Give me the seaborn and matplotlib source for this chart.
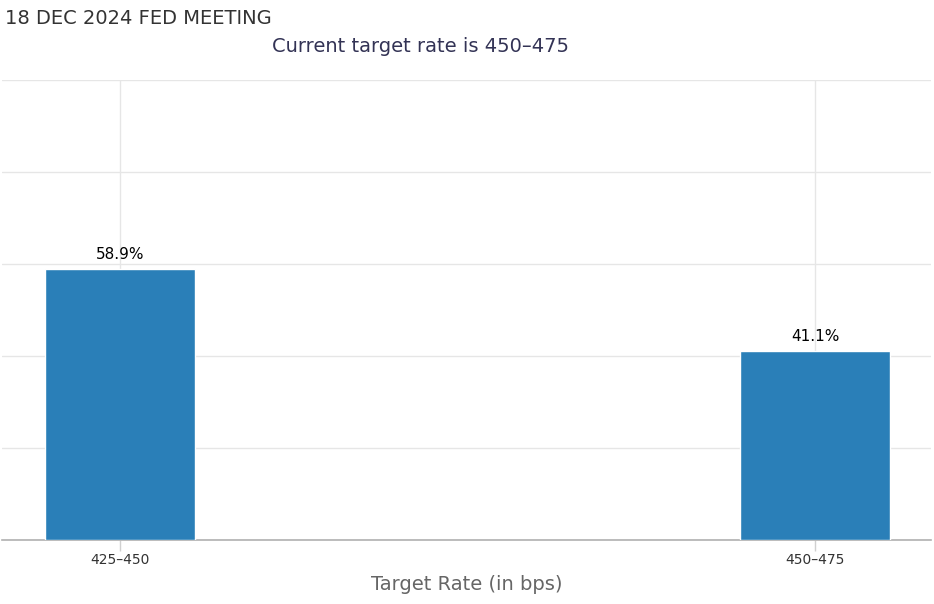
import matplotlib
matplotlib.use("Agg")
import matplotlib.pyplot as plt
import seaborn as sns
import pandas as pd

categories = ["425-450", "450-475"]
probabilities = [58.9, 41.1]
tick_labels = ["425–450", "450–475"]

sns.set_theme(style="white")
plt.rcParams['font.family'] = ['DejaVu Sans']

df = pd.DataFrame({"rate": categories, "prob": probabilities})

fig = plt.figure(figsize=(9.34, 6.04), dpi=100)
ax = fig.add_axes([2/934, 1 - 540/604, 929/934, 460/604])

sns.barplot(data=df, x="rate", y="prob", color="#2a7fb8", width=0.217,
            saturation=1, ax=ax, zorder=3)

ax.set_xlim(-0.1698, 1.1669)
ax.set_ylim(0, 100)
ax.set_yticks([0, 20, 40, 60, 80, 100])
ax.set_yticklabels([])
ax.tick_params(axis="y", length=0)
ax.grid(True, axis="both", color="#e6e6e6", linewidth=1, zorder=0)
ax.set_axisbelow(True)

for s in ["top", "right", "left"]:
    ax.spines[s].set_visible(False)
ax.spines["bottom"].set_color("#b0b0b0")
ax.spines["bottom"].set_linewidth(1.2)

ax.set_xticks([0, 1])
ax.set_xticklabels(tick_labels, fontsize=10, color="#333333")
ax.tick_params(axis="x", length=8, color="#d0d0d0", width=1, pad=1, bottom=True)

ax.set_xlabel("Target Rate (in bps)", fontsize=14, color="#666666", labelpad=6)
ax.set_ylabel("")

for i, v in enumerate(probabilities):
    ax.annotate(f"{v}%", (i, v), xytext=(0, 5), textcoords="offset points",
                ha="center", va="bottom", fontsize=11, color="#000000")

fig.text(5/934, 1 - 18/604, "18 DEC 2024 FED MEETING", fontsize=14,
         color="#333333", ha="left", va="center")
fig.text(421/934, 1 - 46/604, "Current target rate is 450–475", fontsize=14,
         color="#333355", ha="center", va="center")

fig.savefig("out.png", dpi=100)
